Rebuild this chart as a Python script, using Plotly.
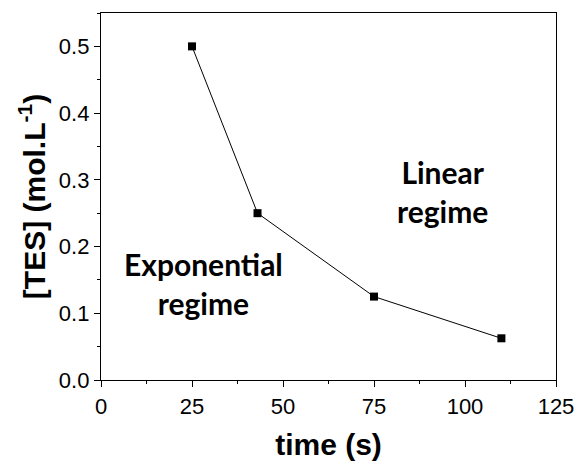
import plotly.graph_objects as go

time_s = [25, 43, 75, 110]
tes_conc = [0.5, 0.25, 0.125, 0.0625]

fig = go.Figure()
fig.add_trace(go.Scatter(
    x=time_s, y=tes_conc, mode="lines+markers",
    line=dict(color="black", width=1),
    marker=dict(symbol="square", size=8, color="black"),
    showlegend=False,
))

axis_common = dict(
    showline=True, linecolor="black", linewidth=1.3, mirror=True,
    ticks="outside", ticklen=6, tickwidth=1.3, tickcolor="black",
    showgrid=False, zeroline=False, automargin=False,
    tickfont=dict(family="Liberation Sans, Arial", size=22, color="black"),
)

fig.update_xaxes(
    range=[0, 125], dtick=25, tick0=0,
    minor=dict(dtick=12.5, ticks="outside", ticklen=3, tickcolor="black", tickwidth=1.3),
    title=dict(text="<b>time (s)</b>", font=dict(family="Liberation Sans, Arial", size=30, color="black"), standoff=16),
    **axis_common,
)
fig.update_yaxes(
    range=[0, 0.55], dtick=0.1, tick0=0, tickformat=".1f",
    minor=dict(dtick=0.05, ticks="outside", ticklen=3, tickcolor="black", tickwidth=1.3),
    title=dict(text="<b>[TES] (mol.L<sup>-1</sup>)</b>", font=dict(family="Liberation Sans, Arial", size=30, color="black"), standoff=4),
    **axis_common,
)

ann_font = dict(family="Lato", size=30, color="black")
fig.add_annotation(x=28.1, y=0.144, text="<b>Exponential<br>regime</b>", showarrow=False,
                   font=ann_font, align="center", xref="x", yref="y")
fig.add_annotation(x=93.9, y=0.283, text="<b>Linear<br>regime</b>", showarrow=False,
                   font=ann_font, align="center", xref="x", yref="y")

fig.update_layout(
    width=577, height=461,
    margin=dict(l=101, r=21, t=13, b=81),
    plot_bgcolor="white", paper_bgcolor="white",
)

fig.write_html("out.html")
